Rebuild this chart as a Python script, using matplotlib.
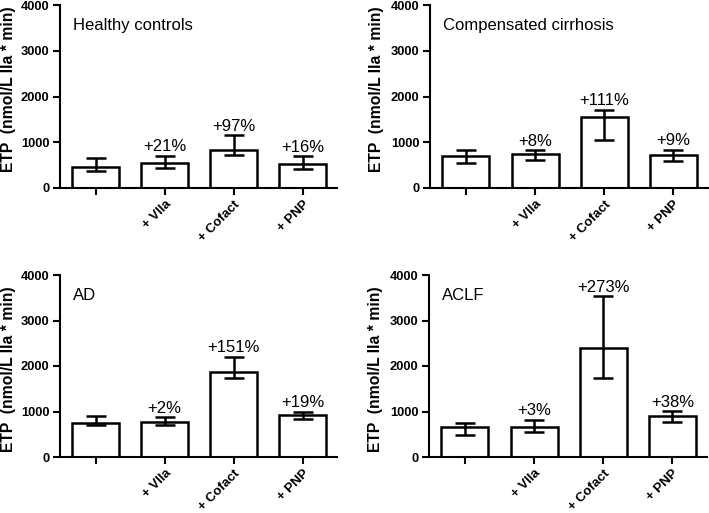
import numpy as np
import matplotlib.pyplot as plt

plt.rcParams['font.family'] = ['Liberation Sans', 'DejaVu Sans']

# 数据：每组 4 个条件（基线、+VIIa、+Cofact、+PNP），柱高 + 上下误差端点
groups = ["Healthy controls", "Compensated cirrhosis", "AD", "ACLF"]
conditions = ["", "+ VIIa", "+ Cofact", "+ PNP"]

bar_values = [
    [450, 545, 836, 531],
    [705, 742, 1541, 727],
    [746, 768, 1872, 921],
    [658, 651, 2391, 892],
]
upper_values = [
    [654, 705, 1149, 691],
    [836, 822, 1709, 836],
    [892, 870, 2208, 994],
    [746, 819, 3539, 1002],
]
lower_values = [
    [364, 436, 713, 422],
    [545, 618, 1054, 596],
    [694, 694, 1733, 833],
    [475, 548, 1733, 760],
]
pct_labels = [
    ["", "+21%", "+97%", "+16%"],
    ["", "+8%", "+111%", "+9%"],
    ["", "+2%", "+151%", "+19%"],
    ["", "+3%", "+273%", "+38%"],
]

W, H = 709, 513
fig = plt.figure(figsize=(W / 100, H / 100), dpi=100)

# 各子图在像素中的位置 (left, top, right, bottom)，以及 y 轴标题的位置
boxes = [
    (60, 5, 337, 188),
    (430, 5, 708, 188),
    (60, 275, 337, 457),
    (429, 275, 707, 457),
]
ylabel_pos = [(-0.16, 0.54), (-0.165, 0.54), (-0.16, 0.48), (-0.165, 0.48)]

x = np.arange(len(conditions))

for i, name in enumerate(groups):
    l, t, r, b = boxes[i]
    ax = fig.add_axes([l / W, 1 - b / H, (r - l) / W, (b - t) / H])

    vals = np.array(bar_values[i])
    up = np.array(upper_values[i]) - vals
    lo = vals - np.array(lower_values[i])

    ax.bar(x, vals, width=0.68, color='white', edgecolor='black', linewidth=1.8, zorder=2)
    ax.errorbar(x, vals, yerr=[lo, up], fmt='none', ecolor='black',
                elinewidth=1.8, capsize=7.5, capthick=1.8, zorder=3)

    for j, txt in enumerate(pct_labels[i]):
        if txt:
            ax.text(x[j], upper_values[i][j] + 30, txt, ha='center', va='bottom', fontsize=12)

    ax.text(0.047, 0.93, name, transform=ax.transAxes, ha='left', va='top', fontsize=12)

    ax.set_xlim(-0.52, 3.5)
    ax.set_ylim(0, 4000)
    ax.set_yticks([0, 1000, 2000, 3000, 4000])
    ax.set_xticks(x)
    ax.set_xticklabels(conditions, rotation=45, ha='right', rotation_mode='anchor',
                       fontsize=9.5, fontweight='bold')
    for lab in ax.get_yticklabels():
        lab.set_fontweight('bold')
        lab.set_fontsize(9.3)
    ax.set_ylabel("ETP  (nmol/L IIa * min)", fontsize=11.3, fontweight='bold')
    ax.yaxis.set_label_coords(*ylabel_pos[i])

    ax.spines['top'].set_visible(False)
    ax.spines['right'].set_visible(False)
    ax.spines['left'].set_linewidth(1.5)
    ax.spines['bottom'].set_linewidth(1.5)
    ax.tick_params(direction='out', width=1.5, length=5, pad=2.5)

fig.savefig("out.png", dpi=100)
